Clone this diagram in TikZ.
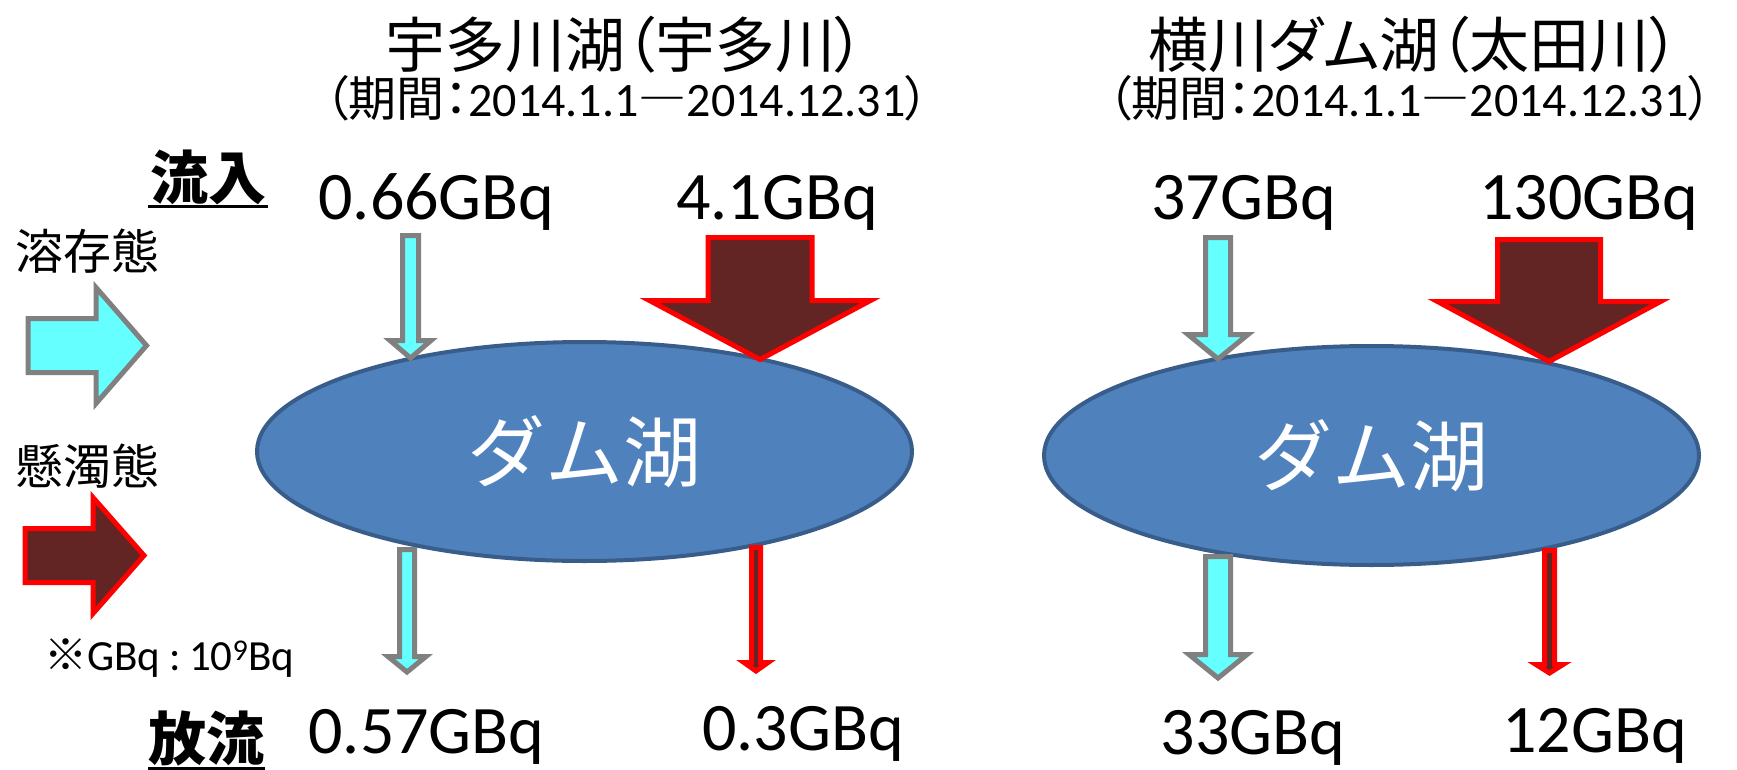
\documentclass[tikz,border=0pt]{standalone}
\usepackage{fontspec}
\setmainfont{Carlito}
\newfontfamily\cjk{Noto Sans CJK JP}
\newfontfamily\cjkp{Noto Sans CJK JP}[RawFeature=+palt]
\usetikzlibrary{shapes.geometric}
\definecolor{cyanfill}{HTML}{66FFFF}
\definecolor{grayline}{HTML}{808080}
\definecolor{brownfill}{HTML}{632523}
\definecolor{redline}{HTML}{FF0000}
\definecolor{lakefill}{HTML}{4F81BD}
\definecolor{lakeline}{HTML}{385D8A}
% down block arrow: style, centre x, shaft half width, head half width, top y, head y, tip y
\newcommand\dnarr[7]{\draw[#1] (#2-#3,#5) -- (#2+#3,#5) -- (#2+#3,#6) -- (#2+#4,#6) -- (#2,#7) -- (#2-#4,#6) -- (#2-#3,#6) -- cycle;}
% right block arrow: style, shaft left x, head base x, tip x, centre y, shaft half height, head half height
\newcommand\rtarr[7]{\draw[#1] (#2,#5-#6) -- (#3,#5-#6) -- (#3,#5-#7) -- (#4,#5) -- (#3,#5+#7) -- (#3,#5+#6) -- (#2,#5+#6) -- cycle;}
\tikzset{
  solarrow/.style={fill=cyanfill, draw=grayline, line width=5pt, line join=miter},
  susarrow/.style={fill=brownfill, draw=redline, line width=5pt, line join=miter},
  lake/.style={ellipse, fill=lakefill, draw=lakeline, line width=4pt, inner sep=0pt,
    minimum width=655pt, minimum height=219pt, text=white,
    font=\cjk\fontsize{78}{90}\selectfont},
  val/.style={inner sep=0pt, anchor=base, font=\fontsize{68}{80}\selectfont},
  title/.style={inner sep=0pt, anchor=base, font=\cjkp\fontsize{60}{70}\selectfont},
  subtitle/.style={inner sep=0pt, anchor=base, font=\fontsize{48}{56}\selectfont},
  head/.style={inner sep=0pt, anchor=base, font=\cjk\bfseries\fontsize{58}{66}\selectfont},
  legend/.style={inner sep=0pt, anchor=base, font=\cjk\fontsize{48}{56}\selectfont},
  note/.style={inner sep=0pt, anchor=base west, font=\fontsize{43}{50}\selectfont},
  uline/.style={line width=3pt, black}
}
\begin{document}
\begin{tikzpicture}[x=1pt,y=-1pt]
\useasboundingbox (0,0) rectangle (1737,770);
% titles
\node[title] (t1) at (625,68) {宇多川湖（宇多川）};
\node[title] (t2) at (1414,68) {横川ダム湖（太田川）};
\node[subtitle] (s1) at (627,117) {{\cjkp （期間：}2014.1.1{\cjk ―}2014.12.31{\cjkp ）}};
\node[subtitle] (s2) at (1410,117) {{\cjkp （期間：}2014.1.1{\cjk ―}2014.12.31{\cjkp ）}};
% left labels
\node[head] (in) at (208.5,200) {流入};
\draw[uline] (148,206.5) -- (268,206.5);
\node[head] (out) at (206.5,760) {放流};
\draw[uline] (148,768.5) -- (265,768.5);
\node[legend] (dis) at (87,269) {溶存態};
\node[legend] (sus) at (87,484) {懸濁態};
\node[note] (unit) at (44,670) {{\cjk ※}GBq\kern0.22em:\kern0.18em10\textsuperscript{9}Bq};
% legend arrows
\rtarr{solarrow}{28}{96}{146.5}{345.5}{27}{58}
\rtarr{susarrow}{25}{93}{144}{555.5}{27}{58}
% lakes
\node[lake] (lake1) at (584.5,451.5) {ダム湖};
\node[lake] (lake2) at (1371.5,455.5) {ダム湖};
% values
\node[val] (v1) at (436.5,220) {0.66GBq};
\node[val] (v2) at (777,220) {4.1GBq};
\node[val] (v3) at (1243.5,220) {37GBq};
\node[val] (v4) at (1589,220) {130GBq};
\node[val] (v5) at (426.5,753) {0.57GBq};
\node[val] (v6) at (803,750) {0.3GBq};
\node[val] (v7) at (1253,754) {33GBq};
\node[val] (v8) at (1594.5,752) {12GBq};
% flow arrows, lake 1
\dnarr{solarrow}{410.5}{8}{20.5}{235.5}{340.5}{358}
\dnarr{susarrow}{760}{52}{110.5}{237.5}{300.5}{359.5}
\dnarr{solarrow}{407}{7.5}{19}{549.5}{656.5}{672}
\dnarr{susarrow}{756}{4.5}{12}{547.5}{662.5}{671}
% flow arrows, lake 2
\dnarr{solarrow}{1218}{12.5}{30}{237.5}{334.5}{359}
\dnarr{susarrow}{1549}{51.5}{111.5}{239.5}{301.5}{361.5}
\dnarr{solarrow}{1218}{12.5}{29}{556.5}{654.5}{678}
\dnarr{susarrow}{1549.5}{5}{13.5}{550.5}{664.5}{673}
\end{tikzpicture}
\end{document}
